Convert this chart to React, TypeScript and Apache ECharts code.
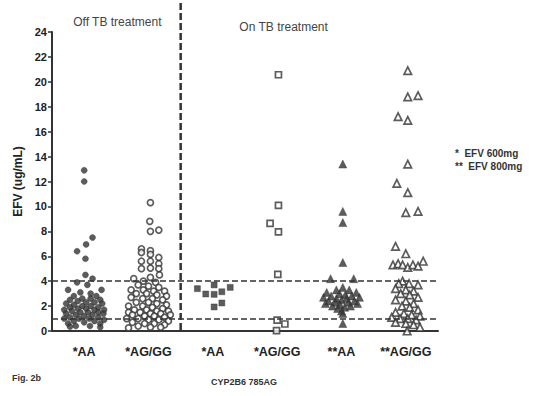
import React, { useEffect, useRef } from "react";
import * as echarts from "echarts";

const categories = ["*AA", "*AG/GG", "*AA", "*AG/GG", "**AA", "**AG/GG"];
const yTicks = [0, 2, 4, 6, 8, 10, 12, 14, 16, 18, 20, 22, 24];
const thresholds = [1, 4];
const panelTitles = ["Off TB treatment", "On TB treatment"];
const doseNotes = ["*  EFV 600mg", "**  EFV 800mg"];

// [EFV value (ug/mL), horizontal jitter within the group (fraction of category width)]
const offAA: number[][] = [
  [12.9, 0], [12.0, 0], [7.5, 0.13], [6.95, 0.03], [6.4, -0.11], [5.8, 0.02], [4.5, 0.02], [4.2, 0.13],
  [3.9, -0.11], [3.7, 0.05], [3.3, -0.25], [3.3, 0.27], [3.1, -0.06], [3.0, 0.1], [2.8, -0.16], [2.8, 0.19],
  [2.6, -0.03], [2.6, 0.1], [2.5, -0.22], [2.5, 0.25], [2.4, -0.1], [2.3, 0.03], [2.3, 0.16], [2.2, -0.28],
  [2.2, 0.28], [2.1, -0.16], [2.0, -0.03], [2.0, 0.1], [1.9, 0.22], [1.9, -0.22], [1.8, -0.1], [1.8, 0.03],
  [1.7, 0.16], [1.7, -0.31], [1.7, 0.31], [1.6, -0.19], [1.5, -0.06], [1.5, 0.06], [1.5, 0.22], [1.4, -0.28],
  [1.4, 0.3], [1.3, -0.13], [1.3, 0.13], [1.2, 0], [1.1, -0.22], [1.1, 0.22], [1.0, -0.31], [1.0, -0.08],
  [1.0, 0.08], [0.9, 0.31], [0.8, -0.16], [0.8, 0.16], [0.7, 0], [0.6, -0.25], [0.6, 0.25], [0.4, -0.13],
  [0.4, 0.09], [0.3, 0.25], [0.35, -0.22],
];
const offAGGG: number[][] = [
  [10.3, 0.03], [8.8, 0.02], [8.0, 0.03], [8.1, 0.16], [6.6, -0.11], [6.3, -0.11], [6.45, 0.03], [6.15, 0.03],
  [5.9, 0.16], [5.6, -0.11], [5.6, 0.03], [5.4, 0.16], [5.0, -0.11], [5.05, 0.03], [5.0, 0.16], [4.5, 0.17],
  [4.3, 0.03], [4.2, -0.23], [4.0, -0.08], [3.9, 0.11], [3.7, -0.16], [3.6, 0], [3.5, 0.16], [3.3, -0.27],
  [3.3, -0.08], [3.2, 0.08], [3.2, 0.25], [3.0, -0.19], [3.0, -0.03], [2.9, 0.13], [2.8, 0.28], [2.7, -0.27],
  [2.6, -0.09], [2.6, 0.06], [2.5, 0.22], [2.3, -0.19], [2.3, 0], [2.2, 0.13], [2.1, 0.28], [2.0, -0.31],
  [2.0, -0.09], [1.9, 0.06], [1.8, 0.22], [1.7, -0.22], [1.7, -0.03], [1.6, 0.13], [1.6, 0.31], [1.5, -0.31],
  [1.5, -0.13], [1.4, 0.03], [1.4, 0.19], [1.3, -0.25], [1.3, 0.34], [1.2, -0.06], [1.2, 0.09], [1.1, 0.25],
  [1.0, -0.34], [1.0, -0.16], [0.9, 0], [0.9, 0.16], [0.8, 0.31], [0.7, -0.25], [0.6, -0.06], [0.6, 0.09],
  [0.5, 0.25], [0.4, -0.16], [0.3, 0.03], [0.3, 0.19], [0.25, -0.31],
];
const onAA: number[][] = [
  [3.4, -0.24], [3.7, 0.02], [2.97, -0.11], [2.94, 0.02], [3.15, 0.14], [3.5, 0.27], [1.93, 0.02], [2.25, 0.14],
];
const onAGGG: number[][] = [
  [20.57, 0.02], [10.09, 0.02], [8.64, -0.11], [7.95, 0.02], [4.55, 0.01], [0.88, 0], [0.56, 0.12], [0.03, -0.01],
];
const on800AA: number[][] = [
  [13.4, 0.02], [9.6, 0.02], [8.7, 0.02], [5.5, 0.02], [4.2, -0.17], [4.2, 0.19], [3.5, 0.02], [3.3, -0.08],
  [3.3, 0.12], [3.1, -0.23], [3.1, 0.23], [3.0, -0.03], [2.9, 0.06], [2.8, -0.16], [2.8, 0.16], [2.7, -0.28],
  [2.7, 0.28], [2.6, -0.08], [2.6, 0.08], [2.5, 0], [2.4, -0.2], [2.4, 0.2], [2.3, -0.09], [2.3, 0.11],
  [2.2, -0.25], [2.2, 0.25], [2.1, -0.02], [2.0, -0.14], [2.0, 0.14], [1.9, 0.05], [1.8, -0.06], [1.6, 0],
  [1.4, 0.02], [0.6, 0.02],
];
const on800AGGG: number[][] = [
  [20.9, 0.03], [18.8, 0.03], [18.9, 0.19], [17.2, -0.12], [16.9, 0.03], [13.4, 0.03], [11.85, -0.14], [11.1, 0.03],
  [9.5, 0], [9.6, 0.19], [6.8, -0.16], [6.2, 0], [5.6, 0.27], [5.3, -0.2], [5.4, -0.12], [5.3, -0.05],
  [5.1, 0.03], [5.3, 0.11], [5.2, 0.19], [4.0, -0.05], [3.8, -0.11], [3.8, 0.05], [3.7, 0.19], [3.4, -0.16],
  [3.3, 0], [3.2, 0.12], [3.0, -0.08], [2.9, 0.06], [2.7, 0.19], [2.5, -0.16], [2.4, 0], [2.2, 0.12],
  [2.0, -0.06], [1.9, 0.06], [1.7, 0.19], [1.5, -0.16], [1.4, -0.03], [1.3, 0.09], [1.2, 0.22], [1.1, -0.22],
  [1.0, -0.09], [1.0, 0.03], [0.9, 0.16], [0.7, -0.16], [0.6, 0], [0.5, 0.12], [0.3, 0.22], [0.0, 0.02],
];

const groups = [offAA, offAGGG, onAA, onAGGG, on800AA, on800AGGG];
const markers = [
  { symbol: "circle", size: 6, filled: true },
  { symbol: "circle", size: 6, filled: false },
  { symbol: "rect", size: 6, filled: true },
  { symbol: "rect", size: 6, filled: false },
  { symbol: "triangle", size: 8, filled: true },
  { symbol: "triangle", size: 7.5, filled: false },
];

const INK = "#333333";
const FONT = "Liberation Sans, Arial, sans-serif";

export default function App() {
  const ref = useRef<HTMLDivElement>(null);
  useEffect(() => {
    if (!ref.current) return;
    const chart = echarts.init(ref.current, null, { renderer: "svg" });
    const series: any[] = groups.map((g, i) => ({
      type: "scatter",
      xAxisIndex: 1,
      yAxisIndex: 0,
      symbol: markers[i].symbol,
      symbolSize: markers[i].size,
      itemStyle: markers[i].filled
        ? { color: INK, borderColor: INK, borderWidth: 0.5 }
        : { color: "#ffffff", borderColor: INK, borderWidth: 1.7 },
      data: g.map(([v, j]) => [i + 0.5 + j, v]),
      z: 3,
    }));
    series.push({
      type: "scatter",
      xAxisIndex: 1,
      yAxisIndex: 0,
      data: [],
      markLine: {
        silent: true,
        symbol: "none",
        label: { show: false },
        lineStyle: { color: INK, type: [6, 3], width: 1.6 },
        data: thresholds.map((t) => ({ yAxis: t })),
      },
    });
    chart.setOption({
      animation: false,
      backgroundColor: "#ffffff",
      grid: { left: 52, right: 105, top: 32, bottom: 65, containLabel: false },
      xAxis: [
        {
          type: "category",
          data: categories,
          boundaryGap: true,
          axisLine: { lineStyle: { color: INK, width: 2 } },
          axisTick: { alignWithLabel: true, length: 5, lineStyle: { color: INK, width: 1.5 } },
          axisLabel: {
            interval: 0,
            hideOverlap: false,
            color: "#222",
            fontWeight: "bold",
            fontSize: 12.5,
            margin: 14,
            fontFamily: FONT,
          },
          splitLine: { show: false },
        },
        {
          type: "value",
          min: 0,
          max: 6,
          show: false,
          splitLine: { show: false },
        },
      ],
      yAxis: {
        type: "value",
        min: 0,
        max: 24,
        interval: 2,
        name: "EFV (ug/mL)",
        nameLocation: "middle",
        nameGap: 26,
        nameTextStyle: { color: "#222", fontWeight: "bold", fontSize: 12, fontFamily: FONT },
        axisLine: { show: true, lineStyle: { color: INK, width: 2 } },
        axisTick: { show: true, length: 4, lineStyle: { color: INK, width: 1.5 } },
        axisLabel: {
          color: "#222",
          fontWeight: "bold",
          fontSize: 11,
          margin: 5,
          fontFamily: FONT,
          formatter: (v: number) => (yTicks.includes(v) ? String(v) : ""),
        },
        splitLine: { show: false },
      },
      series,
    });
    const xDiv = chart.convertToPixel({ xAxisIndex: 1 }, 2) as number;
    const yBase = chart.convertToPixel({ yAxisIndex: 0 }, 0) as number;
    const xMid1 = chart.convertToPixel({ xAxisIndex: 1 }, 1) as number;
    const xMid2 = chart.convertToPixel({ xAxisIndex: 1 }, 3.6) as number;
    chart.setOption({
      graphic: [
        {
          type: "line",
          shape: { x1: xDiv, y1: 3, x2: xDiv, y2: yBase },
          style: { stroke: INK, lineWidth: 2.5, lineDash: [7, 3] },
          z: 10,
        },
        {
          type: "text",
          x: xMid1 + 1,
          y: 22,
          style: { text: panelTitles[0], fill: "#444", font: `12px ${FONT}`, textAlign: "center", textVerticalAlign: "middle" },
        },
        {
          type: "text",
          x: xMid2,
          y: 27,
          style: { text: panelTitles[1], fill: "#444", font: `12px ${FONT}`, textAlign: "center", textVerticalAlign: "middle" },
        },
        {
          type: "text",
          x: 455,
          y: 153,
          style: { text: doseNotes[0], fill: "#333", font: `bold 10px ${FONT}`, textAlign: "left", textVerticalAlign: "middle" },
        },
        {
          type: "text",
          x: 455,
          y: 166,
          style: { text: doseNotes[1], fill: "#333", font: `bold 10px ${FONT}`, textAlign: "left", textVerticalAlign: "middle" },
        },
        {
          type: "text",
          x: 12,
          y: 378,
          style: { text: "Fig. 2b", fill: "#333", font: `bold 9px ${FONT}`, textAlign: "left", textVerticalAlign: "middle" },
        },
        {
          type: "text",
          x: 244,
          y: 382,
          style: { text: "CYP2B6 785AG", fill: "#333", font: `bold 9px ${FONT}`, textAlign: "center", textVerticalAlign: "middle" },
        },
      ],
    });
    return () => chart.dispose();
  }, []);
  return <div ref={ref} style={{ width: 543, height: 396, position: "absolute", left: 0, top: 0 }} />;
}
